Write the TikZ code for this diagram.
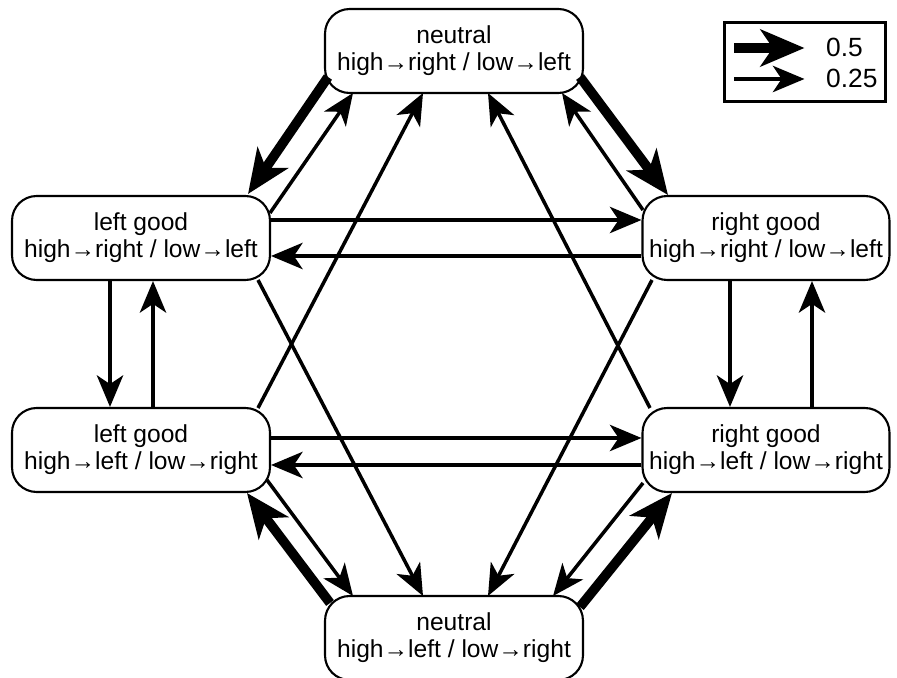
\documentclass[tikz,border=0pt]{standalone}
\usepackage{fontspec}
\setmainfont{Liberation Sans}
\usetikzlibrary{arrows.meta, positioning, calc}

\begin{document}
\begin{tikzpicture}[
    x=0.02cm, y=-0.02cm,
    every node/.style={font=\fontsize{14}{15.5}\selectfont},
    state/.style={draw, line width=1.2pt, rounded corners=14pt, align=center,
      minimum height=1.68cm, inner sep=0pt},
    weak/.style={line width=2pt, -{Stealth[length=18pt, width=15pt, inset=5pt]}},
    strong/.style={line width=5.5pt, -{Stealth[length=25pt, width=21pt, inset=7pt]}}
  ]
  \useasboundingbox (0,0) rectangle (897,678);

  % states
  \node[state, minimum width=5.16cm] (ntop) at (454,51) {neutral\\high→right / low→left};
  \node[state, minimum width=5.16cm] (lg1) at (141,238) {left good\\high→right / low→left};
  \node[state, minimum width=4.94cm] (rg1) at (766,238) {right good\\high→right / low→left};
  \node[state, minimum width=5.16cm] (lg2) at (141,450) {left good\\high→left / low→right};
  \node[state, minimum width=4.94cm] (rg2) at (766,450) {right good\\high→left / low→right};
  \node[state, minimum width=5.16cm] (nbot) at (454,638) {neutral\\high→left / low→right};

  % legend
  \node[draw, line width=1.2pt, minimum width=3.22cm, minimum height=1.58cm] (key) at (805,62) {};
  \node[anchor=west, font=\fontsize{15}{16}\selectfont] (lhalf) at (820,47) {0.5};
  \node[anchor=west, font=\fontsize{15}{16}\selectfont] (lquarter) at (820,78) {0.25};
  \draw[strong] ($(key.west)+(11,-14)$) -- ++(70,0);
  \draw[weak] ($(key.west)+(11,17)$) -- ++(70,0);

  % top neutral <-> good states
  \draw[strong] ($(ntop)+(-126,26)$) -- ($(lg1)+(107,-44)$);
  \draw[weak] ($(lg1)+(129,-25)$) -- ($(ntop)+(-101,42)$);
  \draw[strong] ($(ntop)+(126,26)$) -- ($(rg1)+(-98,-43)$);
  \draw[weak] ($(rg1)+(-123,-28)$) -- ($(ntop)+(108,42)$);

  % horizontal
  \draw[weak] ($(lg1.east)+(0,-18)$) -- ($(rg1.west)+(0,-18)$);
  \draw[weak] ($(rg1.west)+(0,18)$) -- ($(lg1.east)+(0,18)$);
  \draw[weak] ($(lg2.east)+(0,-12)$) -- ($(rg2.west)+(0,-12)$);
  \draw[weak] ($(rg2.west)+(0,15)$) -- ($(lg2.east)+(0,15)$);

  % vertical
  \draw[weak] ($(lg1.south)+(-31,0)$) -- ($(lg2.north)+(-31,0)$);
  \draw[weak] ($(lg2.north)+(12,0)$) -- ($(lg1.south)+(12,0)$);
  \draw[weak] ($(rg1.south)+(-36,0)$) -- ($(rg2.north)+(-36,0)$);
  \draw[weak] ($(rg2.north)+(46,0)$) -- ($(rg1.south)+(46,0)$);

  % bottom neutral <-> good states
  \draw[weak] ($(lg2)+(126,30)$) -- ($(nbot)+(-101,-42)$);
  \draw[strong] ($(nbot)+(-124,-35)$) -- ($(lg2)+(106,43)$);
  \draw[weak] ($(rg2)+(-123,33)$) -- ($(nbot)+(99,-42)$);
  \draw[strong] ($(nbot)+(126,-31)$) -- ($(rg2)+(-94,43)$);

  % long diagonals
  \draw[weak] ($(lg2)+(117,-42)$) -- ($(ntop)+(-31,42)$);
  \draw[weak] ($(rg2)+(-116,-42)$) -- ($(ntop)+(34,42)$);
  \draw[weak] ($(lg1)+(117,42)$) -- ($(nbot)+(-31,-42)$);
  \draw[weak] ($(rg1)+(-114,42)$) -- ($(nbot)+(34,-42)$);
\end{tikzpicture}
\end{document}
